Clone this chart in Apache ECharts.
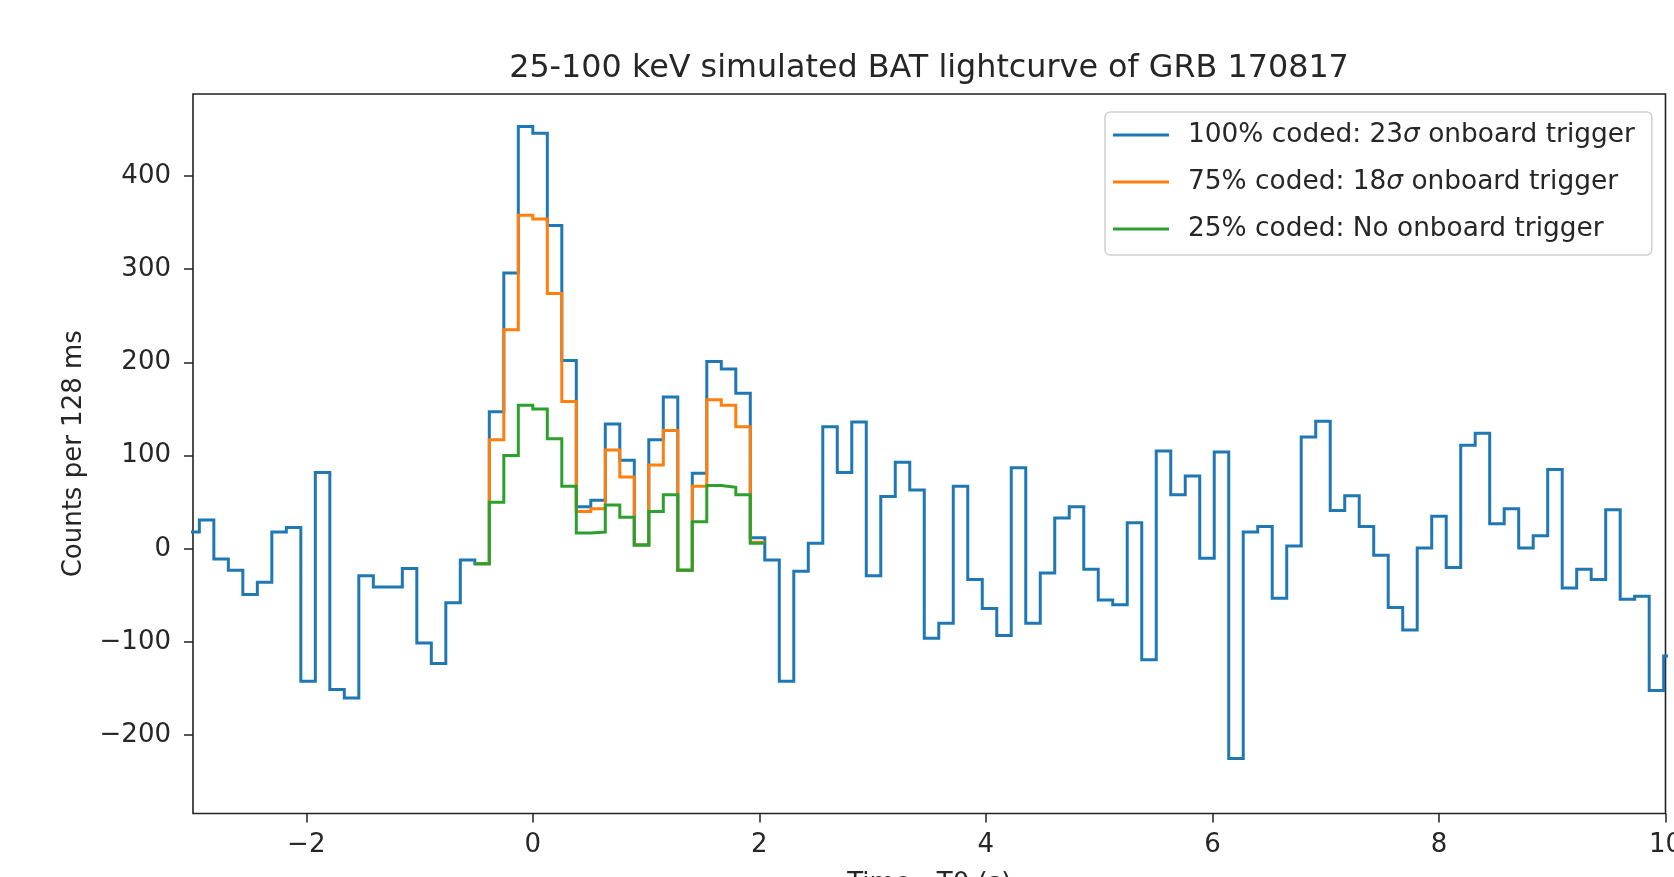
<!DOCTYPE html>
<html>
<head>
<meta charset="utf-8">
<title>BAT lightcurve GRB 170817</title>
<script src="https://cdn.jsdelivr.net/npm/echarts@6/dist/echarts.min.js"></script>
<style>
  html, body { margin: 0; padding: 0; background: #fff; }
  #chart { width: 1674px; height: 877px; }
</style>
</head>
<body>
<div id="chart"></div>
<script>
// 128 ms bins; each value is the count in the bin starting at index * binWidth seconds
const binWidth = 0.128;

// 100% coded: bins -24 .. 78
const fullFirstBin = -24;
const fullCoded = [
  18, 31, -11, -23, -49, -36, 18, 23, -142, 82,
  -151, -160, -29, -41, -41, -21, -101, -123, -58, -12,
  -16, 147, 296, 453, 446, 347, 202, 45, 52, 134,
  95, 4, 117, 163, -23, 81, 201, 193, 167, 12,
  -12, -142, -24, 6, 131, 82, 136, -29, 56, 93,
  63, -96, -80, 67, -33, -64, -93, 87, -80, -26,
  33, 45, -22, -55, -60, 28, -119, 105, 58, 78,
  -10, 104, -225, 18, 24, -53, 3, 120, 137, 41,
  57, 24, -7, -63, -87, 1, 35, -20, 111, 124,
  27, 43, 1, 14, 85, -42, -22, -33, 42, -54,
  -51, -152, -115
];

// 75% and 25% coded: bins -4 .. 15
const partialFirstBin = -4;
const coded75 = [
  -16, 117, 235, 358, 354, 274, 158, 40, 43, 106,
  77, 4, 90, 127, -23, 67, 160, 154, 131, 7
];
const coded25 = [
  -16, 50, 100, 154, 150, 118, 67, 17, 18, 47,
  34, 4, 40, 58, -23, 29, 68, 66, 58, 6
];

const seriesNames = [
  '100% coded: 23σ onboard trigger',
  '75% coded: 18σ onboard trigger',
  '25% coded: No onboard trigger'
];
const seriesColors = ['#1f77b4', '#ff7f0e', '#2ca02c'];

const xTicks = [-2, 0, 2, 4, 6, 8, 10];
const yTicks = [-200, -100, 0, 100, 200, 300, 400];

// Bin left edges with values, plus the closing right edge of the last bin
function toSteps(firstBin, values) {
  const pts = values.map((v, i) => [(firstBin + i) * binWidth, v]);
  pts.push([(firstBin + values.length) * binWidth, values[values.length - 1]]);
  return pts;
}

const minusSign = v => String(v).replace('-', '\u2212');
const FONT = 'DejaVu Sans';
const TEXT = '#262626';
const FRAME = '#222';

const chart = echarts.init(document.getElementById('chart'), null, { renderer: 'canvas' });

const stepSeries = (name, color, data) => ({
  name,
  type: 'line',
  step: 'end',
  data,
  symbol: 'none',
  showSymbol: false,
  clip: true,
  animation: false,
  lineStyle: { color, width: 3, join: 'miter' },
  itemStyle: { color },
  emphasis: { disabled: true }
});

chart.setOption({
  backgroundColor: '#fff',
  animation: false,
  title: {
    text: '25-100 keV simulated BAT lightcurve of GRB 170817',
    left: 924,
    textAlign: 'center',
    top: 48,
    textStyle: { fontFamily: FONT, fontSize: 31.8, fontWeight: 'normal', color: TEXT }
  },
  legend: {
    orient: 'vertical',
    left: 1105,
    top: 112,
    icon: 'rect',
    itemWidth: 56,
    itemHeight: 3,
    itemGap: 21,
    padding: [10, 17, 13, 8],
    backgroundColor: 'rgba(255,255,255,0.8)',
    borderColor: '#d0d0d0',
    borderWidth: 1.5,
    borderRadius: 5,
    data: seriesNames,
    formatter: name => name.replace('σ', '{s|σ}'),
    textStyle: {
      fontFamily: FONT,
      fontSize: 26.4,
      color: TEXT,
      padding: [0, 0, 0, 14],
      rich: {
        s: { fontFamily: FONT, fontSize: 26.4, fontStyle: 'italic', color: TEXT }
      }
    }
  },
  grid: {
    left: 193,
    right: 8.5,
    top: 94,
    bottom: 63.5,
    outerBoundsMode: 'none',
    show: true,
    borderColor: FRAME,
    borderWidth: 1.6,
    backgroundColor: 'transparent'
  },
  xAxis: {
    type: 'value',
    min: -3,
    max: 10,
    name: 'Time - T0 (s)',
    nameLocation: 'middle',
    nameGap: 58,
    nameTextStyle: { fontFamily: FONT, fontSize: 26, color: TEXT },
    axisLine: { show: false, onZero: false },
    splitLine: { show: false },
    axisTick: {
      show: true,
      inside: false,
      length: 9,
      customValues: xTicks,
      lineStyle: { color: FRAME, width: 1.5 }
    },
    axisLabel: {
      customValues: xTicks,
      margin: 19,
      fontFamily: FONT,
      fontSize: 26,
      color: TEXT,
      hideOverlap: false,
      formatter: v => minusSign(v)
    }
  },
  yAxis: {
    type: 'value',
    min: -284,
    max: 488,
    name: 'Counts per 128 ms',
    nameLocation: 'middle',
    nameRotate: 90,
    nameGap: 106,
    nameTextStyle: { fontFamily: FONT, fontSize: 26, color: TEXT },
    axisLine: { show: false, onZero: false },
    splitLine: { show: false },
    axisTick: {
      show: true,
      inside: false,
      length: 9,
      customValues: yTicks,
      lineStyle: { color: FRAME, width: 1.5 }
    },
    axisLabel: {
      customValues: yTicks,
      margin: 22,
      fontFamily: FONT,
      fontSize: 26,
      color: TEXT,
      formatter: v => minusSign(v)
    }
  },
  series: [
    stepSeries(seriesNames[0], seriesColors[0], toSteps(fullFirstBin, fullCoded)),
    stepSeries(seriesNames[1], seriesColors[1], toSteps(partialFirstBin, coded75)),
    stepSeries(seriesNames[2], seriesColors[2], toSteps(partialFirstBin, coded25))
  ]
});
</script>
</body>
</html>
